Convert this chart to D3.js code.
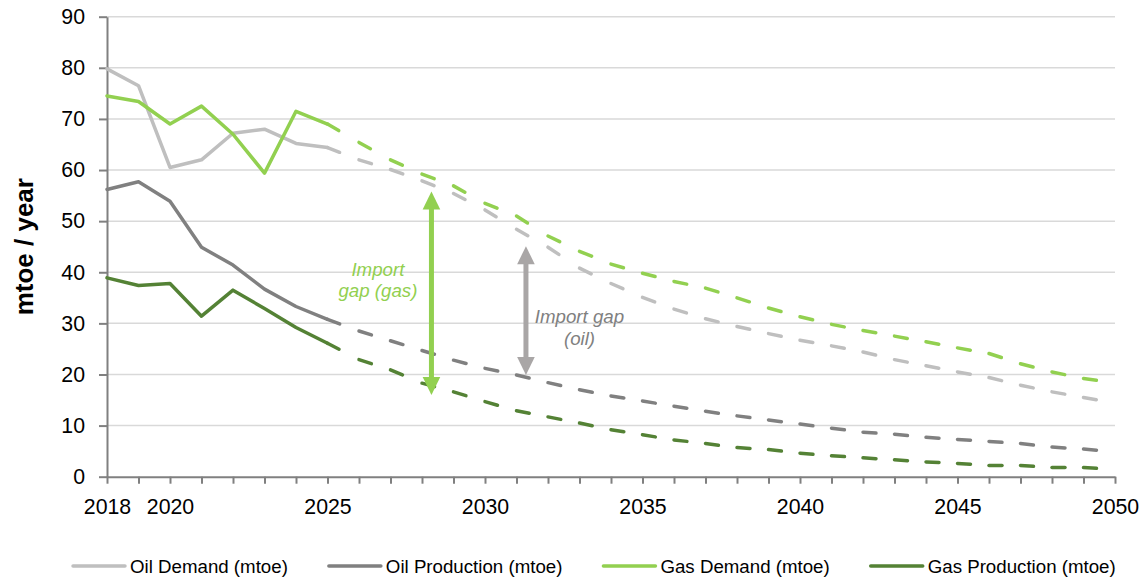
<!DOCTYPE html>
<html>
<head>
<meta charset="utf-8">
<script src="https://cdn.jsdelivr.net/npm/d3@7"></script>
<style>
  body { margin: 0; background: #fff; }
  svg { display: block; }
  text { font-family: Arial, "Liberation Sans", sans-serif; }
</style>
</head>
<body>
<svg id="chart" width="1141" height="577"></svg>
<script>
// ---- Data (mtoe / year), annual values 2018–2050 ----
const years = d3.range(2018, 2051);
const lastActualYear = 2025; // solid up to here, dashed projection afterwards

const oilDemand = [79.8, 76.5, 60.5, 62.0, 67.2, 68.0, 65.2, 64.4,
  62.0, 60.1, 57.9, 55.4, 52.2, 48.4, 44.9, 40.8, 37.8, 35.1, 32.8, 30.9,
  29.4, 28.0, 26.7, 25.6, 24.4, 22.9, 21.7, 20.5, 19.4, 17.9, 16.6, 15.5, 14.4];
const oilProduction = [56.2, 57.7, 53.9, 44.9, 41.4, 36.7, 33.3, 30.8,
  28.5, 26.6, 24.7, 22.8, 21.2, 19.9, 18.4, 17.0, 15.8, 14.8, 13.8, 12.8,
  11.9, 11.1, 10.3, 9.5, 8.7, 8.3, 7.7, 7.3, 6.9, 6.5, 5.8, 5.4, 4.9];
const gasDemand = [74.5, 73.4, 69.0, 72.5, 67.0, 59.4, 71.5, 69.0,
  65.4, 62.0, 59.2, 56.9, 53.5, 51.0, 47.1, 44.1, 41.6, 39.8, 38.2, 36.9,
  35.0, 33.0, 31.3, 29.8, 28.6, 27.5, 26.4, 25.2, 24.1, 22.1, 20.5, 19.2, 18.4];
const gasProduction = [38.9, 37.4, 37.8, 31.4, 36.5, 32.9, 29.2, 26.1,
  22.9, 20.9, 18.3, 16.6, 14.7, 12.9, 11.7, 10.5, 9.2, 8.2, 7.2, 6.5,
  5.7, 5.3, 4.6, 4.1, 3.7, 3.3, 2.9, 2.6, 2.2, 2.2, 1.8, 1.8, 1.4];

const seriesNames = ["Oil Demand (mtoe)", "Oil Production (mtoe)", "Gas Demand (mtoe)", "Gas Production (mtoe)"];
const seriesValues = [oilDemand, oilProduction, gasDemand, gasProduction];
const seriesColors = ["#bfbfbf", "#808080", "#92d050", "#548235"];

const yTickValues = [0, 10, 20, 30, 40, 50, 60, 70, 80, 90];
const xTickLabels = [2018, 2020, 2025, 2030, 2035, 2040, 2045, 2050];
const yAxisTitle = "mtoe / year";

// Import-gap annotations: arrow between two values at a given year, plus label
const gapArrows = [
  { year: 2028.3, low: 16.0, high: 55.8, color: "#92d050",
    lines: ["Import", "gap (gas)"], labelYear: 2026.6, labelValue: 39.3 },
  { year: 2031.3, low: 19.9, high: 45.1, color: "#a9a6a6",
    lines: ["Import gap", "(oil)"], labelYear: 2033.0, labelValue: 30.0, textColor: "#808080" }
];

// ---- Layout ----
const svg = d3.select("#chart");
const x = d3.scaleLinear().domain([2018, 2050]).range([107, 1115]);
const y = d3.scaleLinear().domain([0, 90]).range([476.7, 16.7]);

// Gridlines
svg.append("g").selectAll("line")
  .data(yTickValues.filter(v => v > 0))
  .join("line")
  .attr("x1", x(2018)).attr("x2", x(2050))
  .attr("y1", d => y(d)).attr("y2", d => y(d))
  .attr("stroke", "#d9d9d9").attr("stroke-width", 1.5);

// Y axis
const yAxis = svg.append("g")
  .attr("transform", `translate(${x(2018)},0)`)
  .call(d3.axisLeft(y).tickValues(yTickValues).tickSize(8).tickPadding(14).tickSizeOuter(0));
yAxis.select(".domain").attr("stroke", "#808080").attr("stroke-width", 2);
yAxis.selectAll(".tick line").attr("stroke", "#808080").attr("stroke-width", 2);
yAxis.selectAll(".tick text").attr("font-size", 21.3).attr("fill", "#000")
  .attr("font-family", "Arial, 'Liberation Sans', sans-serif");

// X axis: a tick every year, labels on selected years
const xAxis = svg.append("g")
  .attr("transform", `translate(0,${y(0)})`)
  .call(d3.axisBottom(x).tickValues(years).tickSize(7).tickSizeOuter(0)
    .tickFormat(d => xTickLabels.includes(d) ? String(d) : ""));
xAxis.select(".domain").attr("stroke", "#808080").attr("stroke-width", 2);
xAxis.selectAll(".tick line").attr("stroke", "#808080").attr("stroke-width", 2);
xAxis.selectAll(".tick text").attr("font-size", 21.3).attr("fill", "#000")
  .attr("dy", null).attr("y", 37)
  .attr("font-family", "Arial, 'Liberation Sans', sans-serif");

// Y axis title
svg.append("text")
  .attr("transform", `translate(33,${(y(0) + y(90)) / 2}) rotate(-90)`)
  .attr("text-anchor", "middle")
  .attr("font-size", 26).attr("font-weight", "bold").attr("fill", "#000")
  .text(yAxisTitle);

// ---- Series ----
const line = d3.line().x(d => x(d.year)).y(d => y(d.value));
const lineW = 3.5;
const plot = svg.append("g");

seriesValues.forEach((vals, si) => {
  const pts = years.map((yr, i) => ({ year: yr, value: vals[i] }));
  const actual = pts.filter(p => p.year <= lastActualYear);
  const proj = pts.filter(p => p.year >= lastActualYear);

  plot.append("path")
    .attr("d", line(actual))
    .attr("fill", "none")
    .attr("stroke", seriesColors[si])
    .attr("stroke-width", lineW)
    .attr("stroke-linejoin", "round")
    .attr("stroke-linecap", "round");

  // Projection: one dash per yearly segment
  d3.pairs(proj).forEach(seg => {
    plot.append("path")
      .attr("d", line(seg))
      .attr("fill", "none")
      .attr("stroke", seriesColors[si])
      .attr("stroke-width", lineW)
      .attr("stroke-linecap", "round")
      .attr("stroke-dasharray", "13 200");
  });
});

// ---- Import gap arrows ----
const headLen = 18, headHalf = 8.8, shaftW = 5;
gapArrows.forEach(a => {
  const g = svg.append("g");
  const ax = x(a.year), yTop = y(a.high), yBot = y(a.low);
  g.append("line")
    .attr("x1", ax).attr("x2", ax)
    .attr("y1", yTop + headLen - 1).attr("y2", yBot - headLen + 1)
    .attr("stroke", a.color).attr("stroke-width", shaftW);
  g.append("path")
    .attr("d", `M${ax},${yTop} L${ax + headHalf},${yTop + headLen} L${ax - headHalf},${yTop + headLen} Z`)
    .attr("fill", a.color);
  g.append("path")
    .attr("d", `M${ax},${yBot} L${ax + headHalf},${yBot - headLen} L${ax - headHalf},${yBot - headLen} Z`)
    .attr("fill", a.color);

  const t = g.append("text")
    .attr("x", x(a.labelYear)).attr("y", y(a.labelValue))
    .attr("text-anchor", "middle")
    .attr("font-size", 18.7).attr("font-style", "italic")
    .attr("fill", a.textColor || a.color);
  a.lines.forEach((ln, i) => {
    t.append("tspan").attr("x", x(a.labelYear)).attr("dy", i === 0 ? 0 : 21.5).text(ln);
  });
});

// ---- Legend ----
const legend = svg.append("g");
let lx = 73;
const ly = 566;
seriesNames.forEach((name, i) => {
  legend.append("line")
    .attr("x1", lx).attr("x2", lx + 52)
    .attr("y1", ly).attr("y2", ly)
    .attr("stroke", seriesColors[i]).attr("stroke-width", lineW)
    .attr("stroke-linecap", "round");
  const t = legend.append("text")
    .attr("x", lx + 57).attr("y", ly + 6.5)
    .attr("font-size", 18.7).attr("fill", "#000")
    .text(name);
  lx += 57 + t.node().getComputedTextLength() + 41;
});
</script>
</body>
</html>
